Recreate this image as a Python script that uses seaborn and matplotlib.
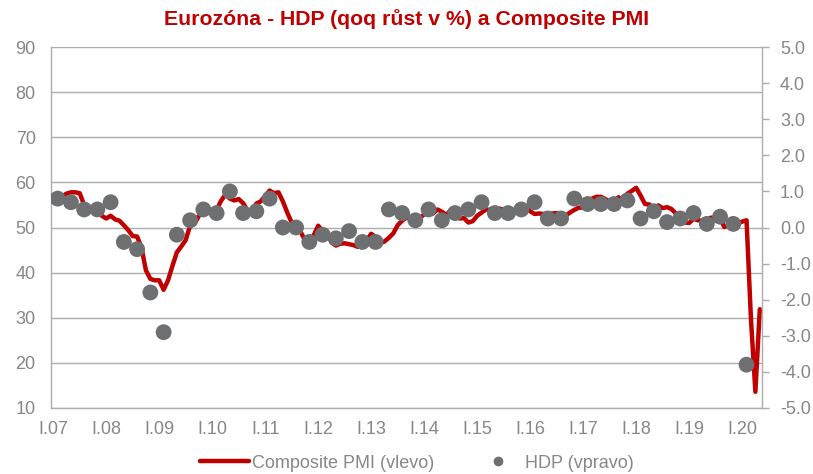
import numpy as np
import pandas as pd
import matplotlib
matplotlib.use("Agg")
import matplotlib.pyplot as plt
import seaborn as sns
from matplotlib.lines import Line2D

# Eurozone composite PMI, monthly Jan 2007 - May 2020 (left axis)
pmi_2007 = [56.5, 56.6, 56.9, 57.5, 57.8, 57.8, 57.6, 55.0, 54.2, 54.3, 53.8, 52.6]
pmi_2008 = [52.0, 52.6, 51.8, 51.5, 50.5, 49.4, 48.1, 48.0, 45.5, 40.5, 38.6, 38.3]
pmi_2009 = [38.3, 36.2, 38.3, 41.5, 44.5, 45.8, 47.2, 50.4, 50.8, 52.6, 53.7, 54.2]
pmi_2010 = [53.7, 53.9, 55.9, 57.3, 56.4, 56.0, 56.3, 55.4, 53.8, 53.8, 55.3, 55.8]
pmi_2011 = [57.0, 58.2, 57.6, 57.8, 55.8, 53.3, 51.1, 50.7, 49.1, 47.2, 47.0, 48.3]
pmi_2012 = [50.4, 49.3, 49.1, 46.7, 46.0, 46.4, 46.5, 46.3, 46.1, 45.7, 46.5, 47.2]
pmi_2013 = [48.6, 47.9, 46.5, 46.9, 47.7, 48.7, 50.5, 51.5, 52.2, 51.9, 51.7, 52.1]
pmi_2014 = [52.9, 53.3, 53.1, 54.0, 53.5, 52.8, 53.8, 52.5, 52.0, 52.1, 51.1, 51.4]
pmi_2015 = [52.6, 53.3, 54.0, 53.9, 53.6, 54.2, 53.9, 54.3, 53.6, 53.9, 54.2, 54.3]
pmi_2016 = [53.6, 53.0, 53.1, 53.0, 53.1, 53.1, 53.2, 52.9, 52.6, 53.3, 53.9, 54.4]
pmi_2017 = [54.4, 56.0, 56.4, 56.8, 56.8, 56.3, 55.7, 55.7, 56.7, 56.0, 57.5, 58.1]
pmi_2018 = [58.8, 57.1, 55.2, 55.1, 54.1, 54.9, 54.3, 54.5, 54.1, 53.1, 52.7, 51.1]
pmi_2019 = [51.0, 51.9, 51.6, 51.5, 51.8, 52.2, 51.5, 51.9, 50.1, 50.6, 50.6, 50.9]
pmi_2020 = [51.3, 51.6, 29.7, 13.6, 31.9]

# Eurozone GDP q/q growth in %, Q1 2007 - Q1 2020 (right axis)
gdp_qoq = [
    0.8, 0.7, 0.5, 0.5,
    0.7, -0.4, -0.6, -1.8,
    -2.9, -0.2, 0.2, 0.5,
    0.4, 1.0, 0.4, 0.45,
    0.8, 0.0, 0.0, -0.4,
    -0.2, -0.3, -0.1, -0.4,
    -0.4, 0.5, 0.4, 0.2,
    0.5, 0.2, 0.4, 0.5,
    0.7, 0.4, 0.4, 0.5,
    0.7, 0.25, 0.25, 0.8,
    0.65, 0.65, 0.65, 0.75,
    0.25, 0.45, 0.15, 0.25,
    0.4, 0.1, 0.3, 0.1,
    -3.8,
]

tick_labels = ["I.07", "I.08", "I.09", "I.10", "I.11", "I.12", "I.13",
               "I.14", "I.15", "I.16", "I.17", "I.18", "I.19", "I.20"]

pmi = (pmi_2007 + pmi_2008 + pmi_2009 + pmi_2010 + pmi_2011 + pmi_2012 + pmi_2013
       + pmi_2014 + pmi_2015 + pmi_2016 + pmi_2017 + pmi_2018 + pmi_2019 + pmi_2020)

# month index: 0 = Jan 2007; GDP dots sit on the middle month of each quarter
df_pmi = pd.DataFrame({"month": np.arange(len(pmi)), "pmi": pmi})
df_gdp = pd.DataFrame({"month": np.arange(len(gdp_qoq)) * 3 + 1, "gdp": gdp_qoq})

RED = "#C00000"
DOT = "#6E6F71"
TXT = "#878787"
GRID = "#ADADAD"

sns.set_theme(style="white")
plt.rcParams["font.family"] = ["Liberation Sans", "DejaVu Sans"]

fig = plt.figure(figsize=(8.13, 4.74), dpi=100)
ax = fig.add_axes([51 / 813, 1 - 408 / 474, 711 / 813, 361 / 474])

sns.lineplot(data=df_pmi, x="month", y="pmi", ax=ax, color=RED, linewidth=3.2)
ax.set_xlim(-0.5, len(pmi) - 0.5)
ax.set_ylim(10, 90)
ax.set_yticks(range(10, 91, 10))
ax.set_xticks(np.arange(len(tick_labels)) * 12)
ax.set_xticklabels(tick_labels)
ax.set_xlabel("")
ax.set_ylabel("")
ax.yaxis.grid(True, color=GRID, linewidth=1)
ax.set_axisbelow(True)
ax.tick_params(axis="y", length=0, pad=11, labelsize=13, labelcolor=TXT)
ax.tick_params(axis="x", length=0, pad=9, labelsize=13, labelcolor=TXT)
for side in ["left", "bottom"]:
    ax.spines[side].set_color(GRID)
    ax.spines[side].set_linewidth(1)
ax.spines["top"].set_visible(False)
ax.spines["right"].set_visible(False)

ax2 = ax.twinx()
sns.scatterplot(data=df_gdp, x="month", y="gdp", ax=ax2, color=DOT, s=130,
                edgecolor="none", linewidth=0, zorder=3)
ax2.set_ylim(-5, 5)
ax2.set_yticks(np.arange(-5, 6, 1))
ax2.set_yticklabels([f"{v:.1f}" for v in np.arange(-5, 6, 1)])
ax2.set_ylabel("")
ax2.tick_params(axis="y", length=5, width=1, color=GRID, pad=8,
                labelsize=13, labelcolor=TXT)
for side in ["left", "top", "bottom"]:
    ax2.spines[side].set_visible(False)
ax2.spines["right"].set_color(GRID)
ax2.spines["right"].set_linewidth(1)

fig.text(0.5, 1 - 19 / 474, "Eurozóna - HDP (qoq růst v %) a Composite PMI",
         ha="center", va="center", color=RED, fontsize=15.3, fontweight="bold")

handles = [
    Line2D([], [], color=RED, linewidth=3.2),
    Line2D([], [], color=DOT, marker="o", linestyle="none", markersize=6),
]
fig.legend(handles, ["Composite PMI (vlevo)", "HDP (vpravo)"], loc="center",
           bbox_to_anchor=(417 / 813, 11 / 474), ncol=2, frameon=False,
           fontsize=13, labelcolor=TXT, handlelength=2.7, handletextpad=0.15,
           columnspacing=2.2)

fig.savefig("out.png", dpi=100)
